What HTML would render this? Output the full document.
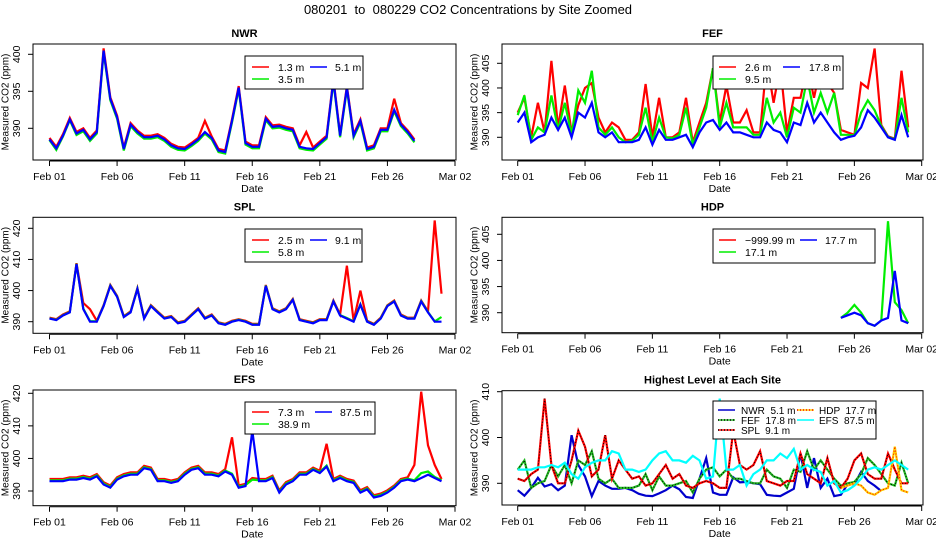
<!DOCTYPE html>
<html><head><meta charset="utf-8"><style>
body{margin:0;background:#fff;}
svg{display:block;font-family:"Liberation Sans",sans-serif;}
svg text{white-space:pre;}
</style></head><body>
<svg id="chart" width="936" height="540" viewBox="0 0 936 540">
<rect width="936" height="540" fill="#fff"/>
<text x="468" y="14" font-size="13" text-anchor="middle">080201  to  080229 CO2 Concentrations by Site Zoomed</text>
</svg>
<script>
// ===== data (values in ppm, sampled every half day) =====
const dayLabels = ["Feb 01","Feb 06","Feb 11","Feb 16","Feb 21","Feb 26","Mar 02"];
const dayTicks = [0,5,10,15,20,25,30];

const nwrStart = 0;
const nwr51 = [388.5,387.3,389,391.2,389.3,389.8,388.5,389.5,400.5,394,391.5,387.2,390.5,389.5,388.8,388.8,389,388.5,387.7,387.3,387.2,387.8,388.5,389.5,388.7,387,386.8,391,395.5,388,387.5,387.5,391.3,390.2,390.3,390,389.8,387.5,387.3,387.2,388,388.8,396.5,389,395.5,389,391,387.2,387.5,389.8,389.8,392.5,390.5,389.5,388.3];
const nwr13 = [388.7,387.5,389.2,391.4,389.5,390,388.7,389.7,400.8,394.2,391.7,387.4,390.7,389.7,389,389,389.2,388.7,387.9,387.5,387.4,388,388.7,391,388.9,387.2,387,391.2,395.7,388.2,387.7,387.7,391.5,390.4,390.5,390.2,390,387.7,389.5,387.4,388.2,389,396.7,389.2,395.7,389.2,391.2,387.4,387.7,390,390,394,390.7,389.7,388.5];
const nwr35 = [388.4,387.1,388.9,391.1,389.1,389.6,388.3,389.3,400.3,393.8,391.3,387,390.3,389.3,388.6,388.6,388.8,388.3,387.5,387.1,387,387.6,388.3,389.3,388.5,386.8,386.6,390.8,395.3,387.8,387.3,387.3,391.1,390,390.1,389.8,389.6,387.3,387.1,387,387.8,388.6,396.3,388.8,395.3,388.8,390.8,387,387.3,389.6,389.6,392.3,390.3,389.3,388.1];

const fefStart = 0;
const fef178 = [393,395,389,390,390.5,394,391.5,394,390,395,394,397,391,390,391,389,389,389,389.5,392,388.5,391.5,389.5,389.5,390,390.5,388,391,393,393.5,391.5,393,391,391,390.5,390,390,393,391.5,391,389,393,392.5,397,393,395,393,391,389.5,390,390.3,392,395.5,394,392,390,389.5,394.5,390];
const fef26 = [395,398,390,397,391,405.5,392,400.5,391,396.5,400,401,394,391,393,392,389.5,389.5,391,400.8,390,398,390,390,391,398,389,393,397,404,393,400.5,393,393,395.5,391,391,405.5,397,404.5,391,398,398,404.5,398,404.5,401,399,391.5,391,390.5,401,400,408,392.5,390.2,389.7,403.5,392];
const fef95 = [394.5,398.5,389.5,392,391,398.5,391.5,397,390.5,399.5,397,403.5,392,390.5,392,390,389,389.3,390.5,396,389,394,390,389.8,390.5,396,388.5,392,396,404,392,397,392,392,392,390.5,390.5,398,393,395,390,396,395,402,395,399,395,399,390.5,390.5,390.4,395,397.5,395.5,392.3,390.1,389.6,398,391];

const splStart = 0;
const spl91 = [391,390.5,392,393,408.5,394,390,390,395,401.5,398,391.5,393,400.5,391,395,393,391,391.5,389.5,390,392,394,391,392,389.5,389,390,390.5,390,389,389,401.5,394,393,394,397,390.5,390,389.5,390.5,390.5,396.5,392,391,390,395.5,390,389,391,395,396.5,392,391,391,396.5,393,390,390];
const spl25 = [391.3,390.8,392.3,393.3,408.8,396,394,390.3,395.3,401.8,398.3,391.8,393.3,400.8,391.3,395.3,393.3,391.3,391.8,389.8,390.3,392.3,394.3,391.3,392.3,389.8,389.3,390.3,390.8,390.3,389.3,389.3,401.8,394.3,393.3,394.3,397.3,390.8,390.3,389.8,390.8,390.8,396.8,392.3,408,390.3,400,390.3,389.3,391.3,395.3,396.8,392.3,391.3,391.3,396.8,393.3,422.5,399];
const spl58 = [391.1,390.6,392.1,393.1,408.6,394.2,390.2,390.1,395.1,401.6,398.1,391.6,393.1,400.6,391.1,395.1,393.1,391.1,391.6,389.6,390.1,392.1,394.1,391.1,392.1,389.6,389.1,390.1,390.6,390.1,389.1,389.1,401.6,394.1,393.1,394.1,397.1,390.6,390.1,389.6,390.6,390.6,396.6,392.1,391.2,390.1,395.6,390.1,389.1,391.1,395.1,396.6,392.1,391.1,391.1,396.6,393.1,390.1,391.5];

const hdpStart = 24;
const hdp177 = [389,389.5,390,389.5,388,387.5,388.5,389,398,388.5,388];
const hdp171 = [389,390,391.5,390,388,387.5,388.5,407.5,392,390.5,388];

const efsStart = 0;
const efs875 = [393,393,393,393.5,393.5,394,393.5,394.5,392,391,393.5,394.5,395,395,397,396.5,393,393,392.5,393,395,396.5,397,395,395,394.5,396,395,391,391.5,408.5,393,393,394,389.5,392,393,395,395,396.5,395.5,397.5,393,394,393,392.5,389.5,390.5,388,388.5,389.5,391,393,393.5,393,394,395,394,393];
const efs73 = [393.7,393.7,393.7,394.2,394.2,394.7,394.2,395.2,392.7,391.7,394.2,395.2,395.7,395.7,397.7,397.2,393.7,393.7,393.2,393.7,395.7,397.2,397.7,395.7,395.7,395.2,396.7,406.5,391.7,392.2,394,393.7,393.7,394.7,390.2,392.7,393.7,395.7,395.7,397.2,396.2,404.5,393.7,394.7,393.7,393.2,390.2,391.2,388.7,389.2,390.2,391.7,393.7,394.2,398,420.5,404,398,393.7];
const efs389 = [393.3,393.3,393.3,393.8,393.8,394.3,393.8,394.8,392.3,391.3,393.8,394.8,395.3,395.3,397.3,396.8,393.3,393.3,392.8,393.3,395.3,396.8,397.3,395.3,395.3,394.8,396.3,395.3,391.3,391.8,393.5,393.3,393.3,394.3,389.8,392.3,393.3,395.3,395.3,396.8,395.8,397.8,393.3,394.3,393.3,392.8,389.8,390.8,388.3,388.8,389.8,391.3,393.3,393.8,393.3,395.5,396,394.3,393.3];

// ===== layout =====
const svg = document.getElementById('chart');
const NS = 'http://www.w3.org/2000/svg';
function mk(tag, attrs, parent){const e=document.createElementNS(NS,tag);for(const k in attrs)e.setAttribute(k,attrs[k]);(parent||svg).appendChild(e);return e;}

const panels = [
 {name:'nwr',title:'NWR',bx:33,by:44,bw:423,bh:116,fx:49.5,mx:455,v0:390,yv0:128.3,v1:400,yv1:54.3,ticks:[390,395,400]},
 {name:'fef',title:'FEF',bx:502,by:44,bw:421,bh:116,fx:517.7,mx:921.7,v0:390,yv0:137.3,v1:405,yv1:63.3,ticks:[390,395,400,405]},
 {name:'spl',title:'SPL',bx:33,by:217.3,bw:423,bh:116,fx:49.5,mx:455,v0:390,yv0:321.7,v1:420,yv1:228.3,ticks:[390,400,410,420]},
 {name:'hdp',title:'HDP',bx:502,by:217.3,bw:421,bh:115.4,fx:517.7,mx:921.7,v0:390,yv0:312.7,v1:405,yv1:234.3,ticks:[390,395,400,405]},
 {name:'efs',title:'EFS',bx:33,by:390,bw:423,bh:115.7,fx:49.5,mx:455,v0:390,yv0:491,v1:420,yv1:393.3,ticks:[390,400,410,420]},
 {name:'highest',title:'Highest Level at Each Site',bx:502,by:390.7,bw:421,bh:114.3,fx:517.7,mx:921.7,v0:390,yv0:483.3,v1:410,yv1:391.7,ticks:[390,400,410]}
];
panels.forEach(p=>{
 p.xs = d => p.fx + (p.mx-p.fx)*d/30;
 p.ys = v => p.yv0 + (v-p.v0)*(p.yv1-p.yv0)/(p.v1-p.v0);
});

function drawAxes(p){
 const g = mk('g',{});
 
 
 const t = mk('text',{x:p.bx+p.bw/2,y:p.by-7,'font-size':11,'font-weight':'bold','text-anchor':'middle'},g);
 t.textContent = p.title;
 
 
 const box = mk('rect',{x:p.bx,y:p.by,width:p.bw,height:p.bh,fill:'none',stroke:'#000','stroke-width':1},g);
 
 
 const ay = p.by+p.bh+1;
 const xa = mk('line',{x1:p.xs(0),x2:p.xs(30),y1:ay,y2:ay,stroke:'#000'},g);
 
 
 dayTicks.forEach((d,i)=>{
  mk('line',{x1:p.xs(d),x2:p.xs(d),y1:ay,y2:ay+5,stroke:'#000'},g);
  const tl = mk('text',{x:p.xs(d),y:ay+19,'font-size':10.5,'text-anchor':'middle'},g);
  tl.textContent = dayLabels[i];
  
  
 });
 const dt = mk('text',{x:p.xs(15),y:ay+31,'font-size':10.5,'text-anchor':'middle'},g);
 dt.textContent = 'Date';
 
 
 const ya = mk('line',{x1:p.bx,x2:p.bx,y1:p.ys(p.ticks[0]),y2:p.ys(p.ticks[p.ticks.length-1]),stroke:'#000'},g);
 
 
 p.ticks.forEach(v=>{
  const y = p.ys(v);
  mk('line',{x1:p.bx-5,x2:p.bx,y1:y,y2:y,stroke:'#000'},g);
  const tl = mk('text',{x:p.bx-16,y:y,'font-size':10.5,'text-anchor':'middle',transform:`rotate(-90 ${p.bx-16} ${y})`,'dominant-baseline':'central'},g);
  tl.textContent = v;
  
  
 });
 const yt = mk('text',{x:p.bx-27,y:p.by+p.bh/2,'font-size':10,'text-anchor':'middle',transform:`rotate(-90 ${p.bx-27} ${p.by+p.bh/2})`,'dominant-baseline':'central'},g);
 yt.textContent = 'Measured CO2 (ppm)';
 
 
 const cp = mk('clipPath',{id:'clip-'+p.name});
 mk('rect',{x:p.bx,y:p.by,width:p.bw,height:p.bh},cp);
 p.g = g;
}

function series(p, vals, start, color, width, name, dash){
 const pts = vals.map((v,i)=>p.xs(start+i*0.5).toFixed(1)+','+p.ys(v).toFixed(1)).join(' ');
 const pl = mk('polyline',{points:pts,fill:'none',stroke:color,'stroke-width':width,'stroke-linejoin':'miter','clip-path':`url(#clip-${p.name})`},p.g);
 if(dash) pl.setAttribute('stroke-dasharray',dash);
 
 
 return pl;
}

function legend(p, x, y, w, h, fs, entries){
 const g = mk('g',{},p.g);
 
 
 mk('rect',{x:x,y:y,width:w,height:h,fill:'#fff',stroke:'#000'},g);
 entries.forEach(e=>{
  mk('line',{x1:e.lx,x2:e.lx+17,y1:e.ly,y2:e.ly,stroke:e.c,'stroke-width':1.5},g);
  if(e.dash) mk('line',{x1:e.lx,x2:e.lx+17,y1:e.ly,y2:e.ly,stroke:e.dc,'stroke-width':1.5,'stroke-dasharray':e.dash},g);
  const t = mk('text',{x:e.tx,y:e.ly+4,'font-size':fs},g);
  t.textContent = e.t;
  
  
 });
}

panels.forEach(drawAxes);
const [pN,pF,pS,pH,pE,pX] = panels;
const LW = 2.2;

series(pN,nwr13,nwrStart,'#ff0000',LW,'nwr-1.3m-line');
series(pN,nwr35,nwrStart,'#00ee00',LW,'nwr-3.5m-line');
series(pN,nwr51,nwrStart,'#0000ff',LW,'nwr-5.1m-line');
legend(pN,245,56,118,33,10.5,[{lx:252,ly:67,c:'#f00',tx:278,t:'1.3 m'},{lx:310,ly:67,c:'#00f',tx:335,t:'5.1 m'},{lx:252,ly:79,c:'#0e0',tx:278,t:'3.5 m'}]);

series(pF,fef26,fefStart,'#ff0000',LW,'fef-2.6m-line');
series(pF,fef95,fefStart,'#00ee00',LW,'fef-9.5m-line');
series(pF,fef178,fefStart,'#0000ff',LW,'fef-17.8m-line');
legend(pF,713,56,130,33,10.5,[{lx:719,ly:67,c:'#f00',tx:745,t:'2.6 m'},{lx:783,ly:67,c:'#00f',tx:809,t:'17.8 m'},{lx:719,ly:79,c:'#0e0',tx:745,t:'9.5 m'}]);

series(pS,spl25,splStart,'#ff0000',LW,'spl-2.5m-line');
series(pS,spl58,splStart,'#00ee00',LW,'spl-5.8m-line');
series(pS,spl91,splStart,'#0000ff',LW,'spl-9.1m-line');
legend(pS,245,229,117,33,10.5,[{lx:252,ly:240,c:'#f00',tx:278,t:'2.5 m'},{lx:310,ly:240,c:'#00f',tx:335,t:'9.1 m'},{lx:252,ly:252,c:'#0e0',tx:278,t:'5.8 m'}]);

series(pH,hdp171,hdpStart,'#00ee00',LW,'hdp-17.1m-line');
series(pH,hdp177,hdpStart,'#0000ff',LW,'hdp-17.7m-line');
legend(pH,713,229,162,34,10.5,[{lx:719,ly:240,c:'#f00',tx:745,t:'\u2212999.99 m'},{lx:800,ly:240,c:'#00f',tx:825,t:'17.7 m'},{lx:719,ly:252,c:'#0e0',tx:745,t:'17.1 m'}]);

series(pE,efs73,efsStart,'#ff0000',LW,'efs-7.3m-line');
series(pE,efs389,efsStart,'#00ee00',LW,'efs-38.9m-line');
series(pE,efs875,efsStart,'#0000ff',LW,'efs-87.5m-line');
legend(pE,245,402,130,32,10.5,[{lx:252,ly:412,c:'#f00',tx:278,t:'7.3 m'},{lx:315,ly:412,c:'#00f',tx:340,t:'87.5 m'},{lx:252,ly:424,c:'#0e0',tx:278,t:'38.9 m'}]);

series(pX,nwr51,nwrStart,'#0000cc',LW,'highest-nwr-line');
series(pX,fef178,fefStart,'#22bb22',LW,'highest-fef-line');
series(pX,fef178,fefStart,'#000',1,'highest-fef-dots','1 2');
series(pX,spl91,splStart,'#ff0000',LW,'highest-spl-line');
series(pX,spl91,splStart,'#000',1,'highest-spl-dots','1 2');
series(pX,hdp177,hdpStart,'#ffcc00',LW,'highest-hdp-line');
series(pX,hdp177,hdpStart,'#ff0000',1,'highest-hdp-dots','1 2');
series(pX,efs875,efsStart,'#00ffff',LW,'highest-efs-line');
legend(pX,713,401,163,38,10,[
 {lx:718,ly:410,c:'#0000cc',tx:741,t:'NWR  5.1 m'},
 {lx:718,ly:420,c:'#22bb22',dash:'1 2',dc:'#000',tx:741,t:'FEF  17.8 m'},
 {lx:718,ly:430,c:'#f00',dash:'1 2',dc:'#000',tx:741,t:'SPL  9.1 m'},
 {lx:797,ly:410,c:'#ffcc00',dash:'1 2',dc:'#f00',tx:819,t:'HDP  17.7 m'},
 {lx:797,ly:420,c:'#00ffff',tx:819,t:'EFS  87.5 m'}]);
</script>
</body></html>
